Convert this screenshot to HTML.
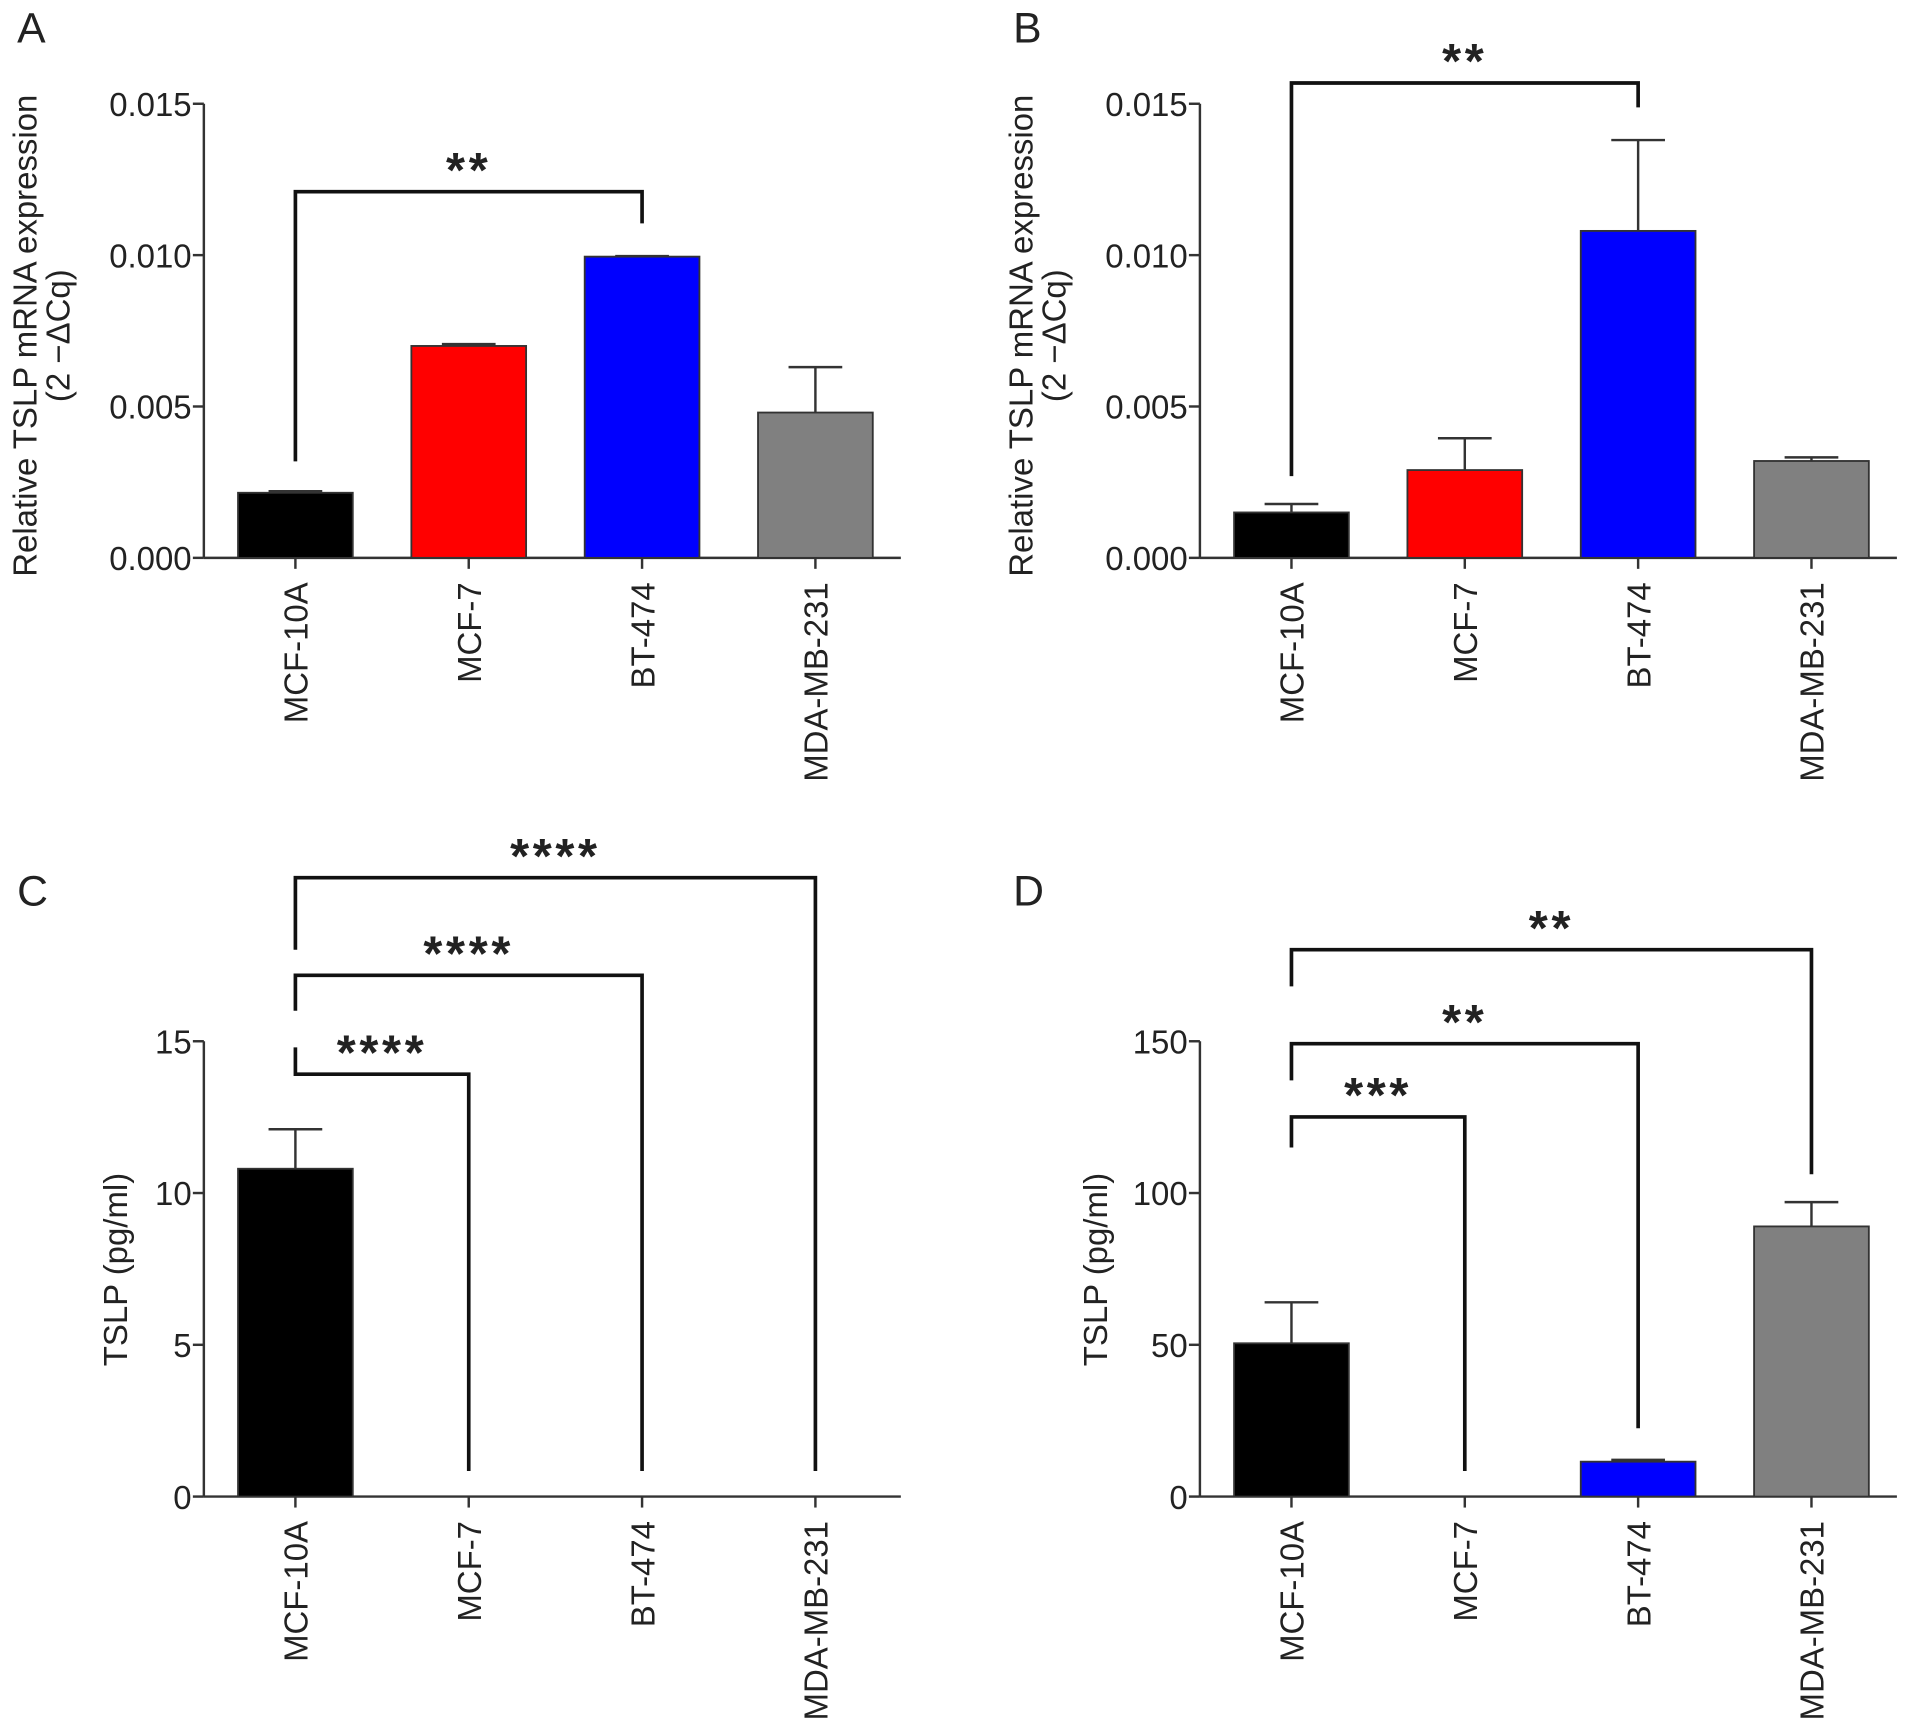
<!DOCTYPE html>
<html><head><meta charset="utf-8"><style>
html,body{margin:0;padding:0;background:#fff}
svg{display:block}
text{font-family:"Liberation Sans",sans-serif;fill:#222}
</style></head><body>
<svg id="fig" width="1914" height="1734" viewBox="0 0 1568 1420.5" preserveAspectRatio="none" xmlns="http://www.w3.org/2000/svg"></svg>
<script>
const categories = ["MCF-10A","MCF-7","BT-474","MDA-MB-231"];
const colors = ["#000000","#ff0000","#0000ff","#808080"];
const aValues = [0.00215, 0.0070, 0.00995, 0.0048];
const aErrors = [0.00005, 0.00006, 0.00002, 0.0015];
const bValues = [0.0015, 0.0029, 0.0108, 0.0032];
const bErrors = [0.00028, 0.00105, 0.0030, 0.00012];
const cValues = [10.8, 0, 0, 0];
const cErrors = [1.3, 0, 0, 0];
const dValues = [50.5, 0, 11.5, 89];
const dErrors = [13.5, 0, 0.6, 8];
const mrnaTicks = ["0.000","0.005","0.010","0.015"];
const cTicks = ["0","5","10","15"];
const dTicks = ["0","50","100","150"];

const NS = "http://www.w3.org/2000/svg";
const svg = document.getElementById("fig");
function mk(tag, attrs, parent){const e=document.createElementNS(NS,tag);for(const k in attrs)e.setAttribute(k,attrs[k]);(parent||svg).appendChild(e);return e;}

function panel(p){
  const g = mk("g",{});
  
  
  const yScale = v => p.y0 - (v/p.max)*(p.y0-p.yTop);
  const xCenter = i => p.x0 + 75 + i*142;
  const L = mk("text",{x:p.x0-153,y:p.y0-p.letterDy,"font-size":35},g); L.textContent=p.letter;
  
  
  const ya = mk("line",{x1:p.x0,y1:p.yTop,x2:p.x0,y2:p.y0,stroke:"#333","stroke-width":2},g);
  
  
  const xa = mk("line",{x1:p.x0,y1:p.y0,x2:p.x0+571,y2:p.y0,stroke:"#333","stroke-width":2},g);
  
  
  p.ticks.forEach((t,i)=>{
    const v = p.max*i/(p.ticks.length-1); const y=yScale(v);
    mk("line",{x1:p.x0-9,y1:y,x2:p.x0,y2:y,stroke:"#333","stroke-width":2},g);
    const tx = mk("text",{x:p.x0-10,y:y+10,"font-size":27,"text-anchor":"end"},g); tx.textContent=t;
    
    
  });
  categories.forEach((c,i)=>{
    const x=xCenter(i);
    mk("line",{x1:x,y1:p.y0,x2:x,y2:p.y0+9,stroke:"#333","stroke-width":2},g);
    const tx = mk("text",{x:0,y:0,"font-size":27,"text-anchor":"end",transform:`translate(${x+10},${p.y0+20}) rotate(-90)`},g); tx.textContent=c;
    
    
    const v=p.values[i], e=p.errors[i];
    if(v>0){
      const top=yScale(v+e);
      if(e>0){
        mk("line",{x1:x,y1:top,x2:x,y2:yScale(v),stroke:"#333","stroke-width":2},g);
        mk("line",{x1:x-22,y1:top,x2:x+22,y2:top,stroke:"#333","stroke-width":2},g);
      }
      const r = mk("rect",{x:x-47,y:yScale(v),width:94,height:p.y0-yScale(v),fill:colors[i],stroke:"#333","stroke-width":1.5},g);
      
      
    }
  });
  p.title.forEach((t,k)=>{
    const tx = mk("text",{x:0,y:0,"font-size":27,"text-anchor":"middle",transform:`translate(${p.titleX+k*27},${p.titleY}) rotate(-90)`},g); tx.textContent=t;
    
    
  });
  p.brackets.forEach(b=>{
    const x1=xCenter(0), x2=xCenter(b.to);
    const br = mk("path",{d:`M${x1},${b.l} V${b.y} H${x2} V${b.r}`,fill:"none",stroke:"#111","stroke-width":3},g);
    
    
    const st = mk("text",{x:(x1+x2)/2,y:b.y-4,"font-size":40,"font-weight":"bold","text-anchor":"middle","letter-spacing":"3"},g); st.textContent=b.s;
    
    
  });
}
panel({letter:"A",x0:167,y0:457,yTop:85,max:0.015,ticks:mrnaTicks,values:aValues,errors:aErrors,letterDy:422,
  title:["Relative TSLP mRNA expression","(2 −ΔCq)"],titleX:30,titleY:275,
  brackets:[{to:2,y:157,l:378,r:183,s:"**"}]});
panel({letter:"B",x0:983,y0:457,yTop:85,max:0.015,ticks:mrnaTicks,values:bValues,errors:bErrors,letterDy:422,
  title:["Relative TSLP mRNA expression","(2 −ΔCq)"],titleX:846,titleY:275,
  brackets:[{to:2,y:68,l:390,r:88,s:"**"}]});
panel({letter:"C",x0:167,y0:1226,yTop:853,max:15,ticks:cTicks,values:cValues,errors:cErrors,letterDy:484,
  title:["TSLP (pg/ml)"],titleX:104,titleY:1040,
  brackets:[{to:1,y:880,l:858,r:1205,s:"****"},{to:2,y:799,l:828,r:1205,s:"****"},{to:3,y:719,l:778,r:1205,s:"****"}]});
panel({letter:"D",x0:983,y0:1226,yTop:853,max:150,ticks:dTicks,values:dValues,errors:dErrors,letterDy:484,
  title:["TSLP (pg/ml)"],titleX:907,titleY:1040,
  brackets:[{to:1,y:915,l:940,r:1205,s:"***"},{to:2,y:855,l:885,r:1170,s:"**"},{to:3,y:778,l:808,r:962,s:"**"}]});
</script>
</body></html>
